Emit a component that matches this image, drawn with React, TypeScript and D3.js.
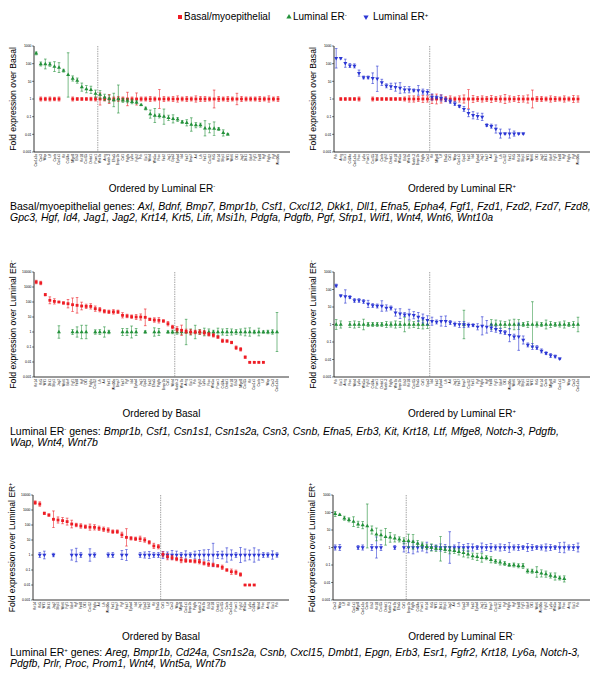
import React from 'react';
import * as d3 from 'd3';

const RED = '#ee1c24';
const GREEN = '#23913a';
const BLUE = '#2b36d4';
const FONT = '"Liberation Sans", Arial, sans-serif';

// ---------- gene lists in the text blocks ----------
const BASAL_GENES = ['Axl', 'Bdnf', 'Bmp7', 'Bmpr1b', 'Csf1', 'Cxcl12', 'Dkk1', 'Dll1', 'Efna5', 'Epha4', 'Fgf1', 'Fzd1', 'Fzd2', 'Fzd7', 'Fzd8', 'Gpc3', 'Hgf', 'Id4', 'Jag1', 'Jag2', 'Krt14', 'Krt5', 'Lifr', 'Msi1h', 'Pdgfa', 'Pdgfb', 'Pgf', 'Sfrp1', 'Wif1', 'Wnt4', 'Wnt6', 'Wnt10a'];
const LUMNEG_GENES = ['Bmpr1b', 'Csf1', 'Csn1s1', 'Csn1s2a', 'Csn3', 'Csnb', 'Efna5', 'Erb3', 'Kit', 'Krt18', 'Ltf', 'Mfge8', 'Notch-3', 'Pdgfb', 'Wap', 'Wnt4', 'Wnt7b'];
const LUMPOS_GENES = ['Areg', 'Bmpr1b', 'Cd24a', 'Csn1s2a', 'Csnb', 'Cxcl15', 'Dmbt1', 'Epgn', 'Erb3', 'Esr1', 'Fgfr2', 'Krt18', 'Ly6a', 'Notch-3', 'Pdgfb', 'Prlr', 'Proc', 'Prom1', 'Wnt4', 'Wnt5a', 'Wnt7b'];

// ---------- x tick labels (gene order per panel) ----------
const GENES_P1 = ['Csn1s2a', 'Csn3', 'Wap', 'Ltf', 'Csnb', 'Csn1s1', 'Kit', 'Cd24a', 'Mfge8', 'Erb3', 'Krt18', 'Cxcl15', 'Dmbt1', 'Prom1', 'Wnt7b', 'Areg', 'Notch-3', 'Efna5', 'Bmpr1b', 'Csf1', 'Pdgfb', 'Ly6a', 'Fgfr2', 'Prlr', 'Esr1', 'Wnt4', 'Wnt5a', 'Proc', 'Fzd2', 'Jag1', 'Gpc3', 'Epha4', 'Id4', 'Fzd7', 'Bmp7', 'Axl', 'Lifr', 'Fzd1', 'Cxcl12', 'Krt5', 'Krt14', 'Sfrp1', 'Wif1', 'Wnt6', 'Dll1', 'Jag2', 'Dkk1', 'Bdnf', 'Fgf1', 'Fzd8', 'Hgf', 'Pdgfa', 'Pgf', 'Wnt10a'];
const GENES_P2 = ['Prlr', 'Areg', 'Esr1', 'Cd24a', 'Csn1s2a', 'Proc', 'Ly6a', 'Prom1', 'Cxcl15', 'Wnt4', 'Csnb', 'Fgfr2', 'Dmbt1', 'Krt18', 'Wnt5a', 'Erb3', 'Wnt7b', 'Notch-3', 'Bmpr1b', 'Pdgfb', 'Csn3', 'Kit', 'Mfge8', 'Ltf', 'Efna5', 'Csf1', 'Wap', 'Csn1s1', 'Gpc3', 'Fzd2', 'Id4', 'Epha4', 'Jag1', 'Fzd7', 'Axl', 'Bmp7', 'Lifr', 'Cxcl12', 'Fzd1', 'Krt5', 'Krt14', 'Sfrp1', 'Wif1', 'Wnt6', 'Dll1', 'Jag2', 'Dkk1', 'Bdnf', 'Fgf1', 'Fzd8', 'Hgf', 'Pdgfa', 'Pgf', 'Wnt10a'];
const GENES_P3 = ['Krt14', 'Krt5', 'Wif1', 'Dkk1', 'Sfrp1', 'Jag2', 'Wnt6', 'Bdnf', 'Fgf1', 'Fzd8', 'Hgf', 'Dll1', 'Pdgfa', 'Cxcl12', 'Lifr', 'Axl', 'Fzd1', 'Wnt10a', 'Bmp7', 'Fzd7', 'Pgf', 'Id4', 'Epha4', 'Jag1', 'Gpc3', 'Fzd2', 'Efna5', 'Pdgfb', 'Bmpr1b', 'Csf1', 'Wnt4', 'Notch-3', 'Wnt7b', 'Areg', 'Esr1', 'Prlr', 'Fgfr2', 'Ly6a', 'Proc', 'Wnt5a', 'Prom1', 'Cd24a', 'Dmbt1', 'Krt18', 'Erb3', 'Mfge8', 'Cxcl15', 'Kit', 'Csn1s1', 'Csnb', 'Ltf', 'Wap', 'Csn3', 'Csn1s2a'];
const GENES_P4 = ['Prlr', 'Esr1', 'Areg', 'Proc', 'Wnt4', 'Ly6a', 'Wnt5a', 'Fgfr2', 'Cd24a', 'Prom1', 'Dmbt1', 'Notch-3', 'Pdgfb', 'Wnt7b', 'Bmpr1b', 'Erb3', 'Krt18', 'Cxcl15', 'Efna5', 'Csf1', 'Gpc3', 'Id4', 'Fzd2', 'Epha4', 'Lifr', 'Axl', 'Jag1', 'Fzd7', 'Bmp7', 'Cxcl12', 'Fzd1', 'Pgf', 'Pdgfa', 'Hgf', 'Fzd8', 'Fgf1', 'Bdnf', 'Dll1', 'Wnt10a', 'Wnt6', 'Jag2', 'Sfrp1', 'Dkk1', 'Wif1', 'Krt5', 'Krt14', 'Csnb', 'Mfge8', 'Kit', 'Csn1s1', 'Ltf', 'Wap', 'Csn3', 'Csn1s2a'];
const GENES_P5 = ['Krt14', 'Krt5', 'Wif1', 'Dkk1', 'Jag2', 'Sfrp1', 'Wnt6', 'Fgf1', 'Bdnf', 'Hgf', 'Fzd8', 'Dll1', 'Cxcl12', 'Pdgfa', 'Axl', 'Lifr', 'Wnt10a', 'Fzd1', 'Bmp7', 'Pgf', 'Fzd7', 'Epha4', 'Id4', 'Jag1', 'Gpc3', 'Fzd2', 'Kit', 'Efna5', 'Csf1', 'Ltf', 'Csn3', 'Wap', 'Mfge8', 'Csn1s1', 'Bmpr1b', 'Pdgfb', 'Notch-3', 'Wnt7b', 'Erb3', 'Krt18', 'Dmbt1', 'Cxcl15', 'Csnb', 'Csn1s2a', 'Prom1', 'Fgfr2', 'Wnt5a', 'Ly6a', 'Cd24a', 'Wnt4', 'Proc', 'Areg', 'Esr1', 'Prlr'];
const GENES_P6 = ['Csn3', 'Wap', 'Ltf', 'Kit', 'Csn1s1', 'Mfge8', 'Csn1s2a', 'Csnb', 'Erb3', 'Krt18', 'Cxcl15', 'Dmbt1', 'Notch-3', 'Wnt7b', 'Efna5', 'Csf1', 'Bmpr1b', 'Pdgfb', 'Cd24a', 'Prom1', 'Krt14', 'Krt5', 'Wif1', 'Dkk1', 'Sfrp1', 'Jag2', 'Axl', 'Lifr', 'Gpc3', 'Id4', 'Fzd2', 'Epha4', 'Jag1', 'Fzd7', 'Bmp7', 'Cxcl12', 'Fzd1', 'Pgf', 'Pdgfa', 'Hgf', 'Fzd8', 'Fgf1', 'Bdnf', 'Dll1', 'Wnt6', 'Wnt10a', 'Fgfr2', 'Ly6a', 'Wnt5a', 'Wnt4', 'Proc', 'Areg', 'Esr1', 'Prlr'];

// ---------- compared population (sorted) : fold values and error factors ----------
const CMP_P1 = [380, 96, 96, 92, 68, 60, 40, 23, 14.5, 11, 4.7, 3.6, 3.3, 2, 1.75, 1.24, 1.04, 0.88, 1, 0.84, 0.8, 0.7, 0.65, 0.46, 0.29, 0.14, 0.116, 0.11, 0.1, 0.086, 0.075, 0.07, 0.05, 0.045, 0.036, 0.033, 0.033, 0.022, 0.022, 0.021, 0.02, 0.012, 0.01];
const CMP_ERR_P1 = [1.2, 1.3, 1.9, 1.3, 1.9, 1.9, 1.2, 18, 1.4, 1.4, 1.7, 1.6, 1.6, 1.6, 1.7, 1.5, 1.6, 2.4, 6.2, 1.3, 1.3, 1.3, 1.2, 1.1, 1.2, 1.7, 2.5, 1.3, 2.7, 1.4, 1.7, 1.3, 1.2, 1.5, 2.4, 1.4, 1.3, 2.7, 1.8, 2.4, 1.2, 1.5, 1.1];
const CMP_P2 = [204, 204, 106, 78, 75, 29, 16.6, 16.6, 15, 14, 8.7, 5.6, 5.2, 4.7, 4.2, 3.35, 3.35, 3.1, 3.1, 2.6, 2.4, 1.3, 1.24, 1.14, 0.92, 0.74, 0.55, 0.39, 0.27, 0.16, 0.12, 0.106, 0.097, 0.033, 0.029, 0.02, 0.011, 0.011, 0.011, 0.011, 0.011, 0.011];
const CMP_ERR_P2 = [3.6, 1.1, 1.7, 1.3, 1.3, 1.5, 1.2, 1.2, 2, 5.2, 1.5, 1.3, 1.5, 1.7, 2, 1.5, 1.5, 1.2, 1.9, 1.4, 1.4, 1.5, 1.2, 1.5, 1.3, 1.3, 1.3, 1.2, 1.4, 1.6, 1.6, 1.5, 1.6, 1.2, 1.3, 1.7, 1.8, 1.1, 1.8, 1.4, 1.1, 1.1];
const CMP_P3 = [2150, 1850, 310, 130, 110, 100, 86, 77, 66, 60, 54, 51, 51, 36, 31, 24, 22, 22, 22, 13, 11.7, 10.5, 10, 10, 9.5, 7, 6.3, 6, 5.4, 3.6, 2.15, 1.5, 1.3, 1.1, 1, 1, 1, 0.9, 0.7, 0.6, 0.46, 0.26, 0.25, 0.2, 0.09, 0.07, 0.021, 0.0095, 0.0095, 0.0095, 0.0095];
const CMP_ERR_P3 = [1.3, 1.3, 1.2, 1.7, 1.5, 1.1, 1.2, 1.9, 2.8, 3.3, 1.8, 1.4, 1.5, 1.5, 1.4, 1.3, 1.3, 1.4, 1.3, 1.5, 1.3, 1.3, 1.5, 1.6, 3.6, 1.2, 1.4, 1.5, 1.2, 1.4, 1.3, 1.5, 2.2, 1.4, 1.5, 1.3, 1.4, 1.4, 1.3, 1.3, 1.2, 1.3, 1.2, 1.2, 1.3, 1.3, 1.2, 1.1, 1.1, 1.1, 1.1];
const CMP_P4 = [168, 45, 40, 37, 24, 24, 21, 15, 12.4, 11.4, 11.4, 8.8, 8.8, 4.8, 4.2, 3.7, 3.7, 3.4, 2.7, 2.2, 1.76, 1.54, 1.4, 1.54, 1.54, 1.3, 1.05, 1, 1, 0.92, 0.92, 0.74, 0.84, 0.74, 0.65, 0.54, 0.42, 0.35, 0.25, 0.2, 0.2, 0.13, 0.068, 0.055, 0.048, 0.031, 0.023, 0.017, 0.015, 0.011];
const CMP_ERR_P4 = [1.2, 1.1, 2.4, 1.2, 1.3, 1.3, 1.3, 1.6, 1.3, 1.3, 2, 1.5, 1.3, 1.6, 1.9, 1.3, 2, 1.6, 1.8, 1.8, 1.8, 1.7, 1.3, 1.9, 2, 1.3, 1.3, 1.5, 1.5, 1.3, 1.2, 1.5, 3.3, 2.3, 1.6, 1.5, 1.4, 1.3, 2.4, 1.4, 6, 1.7, 1.3, 1.5, 1.3, 1.3, 1.2, 1.3, 1.2, 1.1];
const CMP_P5 = [3100, 2500, 600, 460, 240, 215, 195, 168, 116, 100, 86, 77, 72, 70, 60, 52, 46, 36, 36, 22, 15, 13, 12, 12, 10, 7, 4, 3.6, 1.1, 0.77, 0.66, 0.54, 0.46, 0.42, 0.4, 0.38, 0.36, 0.28, 0.24, 0.22, 0.19, 0.15, 0.1, 0.077, 0.07, 0.05, 0.01, 0.01, 0.01];
const CMP_ERR_P5 = [1.3, 1.4, 1.2, 1.2, 3.6, 1.6, 1.6, 1.7, 1.8, 1.3, 1.4, 1.3, 1.6, 1.5, 1.4, 1.4, 1.4, 1.3, 1.3, 1.5, 3.8, 1.3, 1.3, 1.5, 1.4, 1.3, 1.5, 1.4, 1.5, 1.6, 1.4, 1.3, 1.5, 1.3, 1.2, 1.3, 1.4, 1.3, 1.4, 1.3, 1.2, 1.4, 1.2, 1.5, 1.4, 1.3, 1.1, 1.1, 1.1];
const CMP_P6 = [83, 73, 47, 38, 30, 21, 19, 17, 10, 5.6, 5.1, 4.1, 3.8, 3.3, 2.9, 2.4, 2.4, 2.1, 1.7, 1.36, 1.1, 1, 0.87, 0.84, 0.77, 0.7, 0.64, 0.56, 0.49, 0.41, 0.32, 0.29, 0.26, 0.26, 0.2, 0.16, 0.14, 0.12, 0.1, 0.1, 0.09, 0.087, 0.045, 0.044, 0.04, 0.033, 0.03, 0.025, 0.022, 0.018, 0.016];
const CMP_ERR_P6 = [1.4, 1.1, 1.3, 1.3, 1.9, 1.5, 1.6, 18, 1.7, 2.3, 1.9, 3, 1.9, 1.6, 1.4, 1.5, 2.4, 2.6, 1.5, 1.5, 1.4, 1.6, 1.5, 5, 1.5, 1.6, 1.4, 1.5, 1.7, 1.6, 1.5, 1.6, 1.8, 1.3, 1.5, 1.3, 1.4, 1.3, 1.2, 1.3, 1.3, 1.4, 1.3, 1.3, 2, 1.6, 1.5, 1.4, 1.6, 1.3, 1.5];

// ---------- reference population (fold = 1) : error factors, null = not shown ----------
const REF_ERR_P1 = [null, 1.3, 1.25, 1.3, 1.25, 1.3, null, null, 1.3, 1.2, 1.2, 1.2, 1.25, 1.3, 2.2, 1.3, 1.8, 1.3, 1.4, 1.3, 2.4, 1.3, 2.2, 1.3, 1.3, 1.4, 1.3, 3.5, 1.4, 1.3, 1.4, 1.5, 1.3, 1.4, 1.3, 1.5, 1.4, 1.4, 1.3, 3.2, 1.4, 1.3, 1.4, 1.3, 2.1, 1.4, 1.3, 1.3, 1.3, 1.4, 1.3, 1.5, 1.3, 1.4];
const REF_ERR_P2 = [null, 1.2, 1.2, 1.2, 1.2, 1.3, null, null, 1.3, 1.2, 1.2, 1.2, 1.2, 1.2, 1.2, 1.3, 1.5, 1.5, 1.4, 1.6, 1.5, 1.8, 1.9, 1.7, 1.4, 1.5, 1.3, 1.5, 1.7, 3.4, 1.6, 1.4, 1.5, 1.4, 1.6, 1.4, 1.5, 1.8, 1.5, 1.4, 1.6, 1.5, 1.7, 3.2, 1.4, 1.4, 1.3, 1.5, 1.4, 1.3, 1.5, 1.3, 1.6, 1.5];
const REF_ERR_P3 = [null, null, null, null, null, 2.6, null, null, 1.5, 2.2, 2.8, 2.8, null, 1.4, 1.5, 2.2, 1.3, null, null, 1.7, 1.7, 2.5, 1.7, null, 1.2, null, 1.9, 1.7, null, 1.2, 1.3, 1.4, 1.5, 7, 1.6, 2.8, 1.5, 1.8, 1.6, 1.3, 1.8, 1.6, 1.7, 1.6, 1.5, 1.6, 1.8, 1.9, 1.3, 1.8, 1.2, 1.3, 1.4, 20];
const REF_ERR_P4 = [1.9, 1.6, null, 1.5, 1.6, 1.5, 2, 1.3, 1.3, 1.3, 1.3, 1.5, 1.4, 1.6, 1.5, 2.6, 1.6, 1.5, 1.7, 1.8, 1.7, null, null, null, null, null, null, null, 6.5, null, null, null, null, null, 1.9, 1.8, 1.6, 1.5, 1.8, 2, 1.9, 1.3, 1.5, 20, 1.4, 1.3, 1.8, 1.5, 1.3, 1.4, 1.6, 1.3, 1.5, 2.6];
const REF_ERR_P5 = [null, 1.5, 1.8, null, 1.3, null, null, null, 2.2, 2.8, 1.5, null, 2.6, 1.4, null, null, 1.4, 1.5, null, 2, 2.3, null, null, 1.5, 1.6, 1.7, 1.5, 1.5, 1.7, 1.6, 2, 1.8, 1.5, 1.9, 1.4, 1.8, 2, 2.2, 2.3, 6, 1.7, 1.8, 3, 2.2, 1.5, 3.2, 2.5, 2.1, 3, 2.2, 1.5, 1.4, 1.9, 1.4];
const REF_ERR_P6 = [1.4, 1.5, null, null, null, 1.3, 1.4, null, 1.5, 4, 1.5, null, null, 1.3, null, 1.8, 2, 2.3, 1.8, 1.6, 2, 1.5, 1.4, 1.6, 1.5, 8, 1.4, 1.9, 1.5, 1.7, 1.6, 1.3, 1.8, 1.5, 1.7, 1.4, 1.6, 1.5, 1.9, 1.4, 1.5, 1.3, 1.7, 1.5, 1.3, 1.4, 1.6, 1.5, 1.3, 1.9, 2, 1.4, 1.5, 1.8];

type Shape = 'square' | 'up' | 'down';

const PANELS = [
  { left: 34, right: 290, top: 46, bottom: 152, yMax: 1000, genes: GENES_P1, cmp: CMP_P1, cmpErr: CMP_ERR_P1, refErr: REF_ERR_P1, split: 14, cmpC: GREEN, cmpS: 'up' as Shape, refC: RED, refS: 'square' as Shape, yLab: ['Fold expression over Basal', ''], ord: ['Ordered by Luminal ER', '-'] },
  { left: 334, right: 590, top: 46, bottom: 152, yMax: 1000, genes: GENES_P2, cmp: CMP_P2, cmpErr: CMP_ERR_P2, refErr: REF_ERR_P2, split: 21, cmpC: BLUE, cmpS: 'down' as Shape, refC: RED, refS: 'square' as Shape, yLab: ['Fold expression over Basal', ''], ord: ['Ordered by Luminal ER', '+'] },
  { left: 34, right: 289, top: 272, bottom: 377, yMax: 10000, genes: GENES_P3, cmp: CMP_P3, cmpErr: CMP_ERR_P3, refErr: REF_ERR_P3, split: 31, cmpC: RED, cmpS: 'square' as Shape, refC: GREEN, refS: 'up' as Shape, yLab: ['Fold expression over Luminal ER', '-'], ord: ['Ordered by Basal', ''] },
  { left: 334, right: 590, top: 272, bottom: 377, yMax: 1000, genes: GENES_P4, cmp: CMP_P4, cmpErr: CMP_ERR_P4, refErr: REF_ERR_P4, split: 21, cmpC: BLUE, cmpS: 'down' as Shape, refC: GREEN, refS: 'up' as Shape, yLab: ['Fold expression over Luminal ER', '-'], ord: ['Ordered by Luminal ER', '+'] },
  { left: 33, right: 289, top: 495, bottom: 600, yMax: 10000, genes: GENES_P5, cmp: CMP_P5, cmpErr: CMP_ERR_P5, refErr: REF_ERR_P5, split: 28, cmpC: RED, cmpS: 'square' as Shape, refC: BLUE, refS: 'down' as Shape, yLab: ['Fold expression over Luminal ER', '+'], ord: ['Ordered by Basal', ''] },
  { left: 333, right: 590, top: 495, bottom: 600, yMax: 1000, genes: GENES_P6, cmp: CMP_P6, cmpErr: CMP_ERR_P6, refErr: REF_ERR_P6, split: 16, cmpC: GREEN, cmpS: 'up' as Shape, refC: BLUE, refS: 'down' as Shape, yLab: ['Fold expression over Luminal ER', '+'], ord: ['Ordered by Luminal ER', '-'] },
];

const BLOCKS = [
  { y1: 209.5, y2: 220.5, head: ['Basal/myoepithelial genes: '], genes: BASAL_GENES, n1: 15 },
  { y1: 434.5, y2: 445.5, head: ['Luminal ER', '-', ' genes: '], genes: LUMNEG_GENES, n1: 14 },
  { y1: 655.5, y2: 666.5, head: ['Luminal ER', '+', ' genes: '], genes: LUMPOS_GENES, n1: 14 },
];

function symPath(shape: Shape, size: number) {
  const t = shape === 'square' ? d3.symbolSquare : d3.symbolTriangle;
  return d3.symbol().type(t).size(size)() as string;
}

function Marker({ x, y, shape, color, size }: { x: number; y: number; shape: Shape; color: string; size: number }) {
  return (
    <path
      d={symPath(shape, size)}
      fill={color}
      transform={`translate(${x},${y})${shape === 'down' ? ' rotate(180)' : ''}`}
    />
  );
}

function Series({ x, y, genes, vals, errs, color, shape }: any) {
  const out: any[] = [];
  genes.forEach((g: string, i: number) => {
    const v = vals[i];
    const f = errs[i];
    if (v == null || f == null) return;
    const cx = x(g);
    const y1 = y(v * f);
    const y2 = y(v / f);
    out.push(
      <g key={g + i}>
        <line x1={cx} x2={cx} y1={y1} y2={y2} stroke={color} strokeWidth={0.7} opacity={0.85} />
        <line x1={cx - 1.3} x2={cx + 1.3} y1={y1} y2={y1} stroke={color} strokeWidth={0.7} opacity={0.85} />
        <line x1={cx - 1.3} x2={cx + 1.3} y1={y2} y2={y2} stroke={color} strokeWidth={0.7} opacity={0.85} />
        <Marker x={cx} y={y(v)} shape={shape} color={color} size={shape === 'square' ? 8 : 7} />
      </g>
    );
  });
  return <g>{out}</g>;
}

function Panel({ p }: { p: (typeof PANELS)[number] }) {
  const y = d3.scaleLog().domain([0.001, p.yMax]).range([p.bottom, p.top]).clamp(true);
  const x = d3.scalePoint<string>().domain(p.genes).range([p.left + 2.2, p.right - 12]);
  const ticks = p.yMax === 10000 ? [0.001, 0.01, 0.1, 1, 10, 100, 1000, 10000] : [0.001, 0.01, 0.1, 1, 10, 100, 1000];
  const refVals = p.genes.map(() => 1);
  const dashX = ((x(p.genes[p.split - 1]) as number) + (x(p.genes[p.split]) as number)) / 2;
  const cy = (p.top + p.bottom) / 2;
  const cx = (p.left + p.right) / 2;
  const labX = p.left - 18;
  return (
    <g>
      <line x1={p.left} x2={p.left} y1={p.top} y2={p.bottom} stroke="#000" strokeWidth={0.8} />
      <line x1={p.left} x2={p.right} y1={p.bottom} y2={p.bottom} stroke="#000" strokeWidth={0.8} />
      {ticks.map((t) => (
        <g key={t}>
          <line x1={p.left - 2} x2={p.left} y1={y(t)} y2={y(t)} stroke="#000" strokeWidth={0.5} />
          <text x={p.left - 2.5} y={y(t) + 1.2} fontSize={3.4} textAnchor="end" fontFamily={FONT}>{String(t)}</text>
        </g>
      ))}
      {p.genes.map((g) => (
        <text key={g} transform={`translate(${(x(g) as number) + 1.1},${p.bottom + 2}) rotate(-90)`} fontSize={3.2} textAnchor="end" fontFamily={FONT}>{g}</text>
      ))}
      <line x1={dashX} x2={dashX} y1={p.top} y2={p.bottom} stroke="#777" strokeWidth={0.7} strokeDasharray="1.4,1" />
      <Series x={x} y={y} genes={p.genes} vals={refVals} errs={p.refErr} color={p.refC} shape={p.refS} />
      <Series x={x} y={y} genes={p.genes} vals={p.cmp} errs={p.cmpErr} color={p.cmpC} shape={p.cmpS} />
      <text transform={`translate(${labX},${cy}) rotate(-90)`} fontSize={8.6} textAnchor="middle" fontFamily={FONT}>
        {p.yLab[0]}
        {p.yLab[1] ? <tspan fontSize={5} dy={-3}>{p.yLab[1]}</tspan> : null}
      </text>
      <text x={cx} y={p.bottom + 39.8} fontSize={10} textAnchor="middle" fontFamily={FONT}>
        {p.ord[0]}
        {p.ord[1] ? <tspan fontSize={6} dy={-3.5}>{p.ord[1]}</tspan> : null}
      </text>
    </g>
  );
}

function Block({ b }: { b: (typeof BLOCKS)[number] }) {
  const l1 = b.genes.slice(0, b.n1).join(', ') + ',';
  const l2 = b.genes.slice(b.n1).join(', ');
  const head =
    b.head.length === 1 ? (
      <tspan>{b.head[0]}</tspan>
    ) : (
      <>
        <tspan>{b.head[0]}</tspan>
        <tspan fontSize={6} dy={-3.5}>{b.head[1]}</tspan>
        <tspan dy={3.5}>{b.head[2]}</tspan>
      </>
    );
  return (
    <g fontFamily={FONT} fontSize={10.5}>
      <text x={10} y={b.y1}>
        {head}
        <tspan fontStyle="italic">{l1}</tspan>
      </text>
      <text x={10} y={b.y2} fontStyle="italic">{l2}</text>
    </g>
  );
}

function Legend() {
  const ly = 20;
  return (
    <g fontFamily={FONT} fontSize={10}>
      <Marker x={180} y={ly - 3} shape="square" color={RED} size={16} />
      <text x={184} y={ly}>Basal/myoepithelial</text>
      <Marker x={289} y={ly - 3} shape="up" color={GREEN} size={12} />
      <text x={293} y={ly}>
        Luminal ER<tspan fontSize={6} dy={-3.5}>-</tspan>
      </text>
      <Marker x={366} y={ly - 3} shape="down" color={BLUE} size={12} />
      <text x={373} y={ly}>
        Luminal ER<tspan fontSize={6} dy={-3.5}>+</tspan>
      </text>
    </g>
  );
}

export default function App() {
  return (
    <svg width={600} height={687} style={{ position: 'absolute', left: 0, top: 0, background: '#fff' }}>
      <rect width={600} height={687} fill="#fff" />
      <Legend />
      {PANELS.map((p, i) => (
        <Panel key={i} p={p} />
      ))}
      {BLOCKS.map((b, i) => (
        <Block key={i} b={b} />
      ))}
    </svg>
  );
}
